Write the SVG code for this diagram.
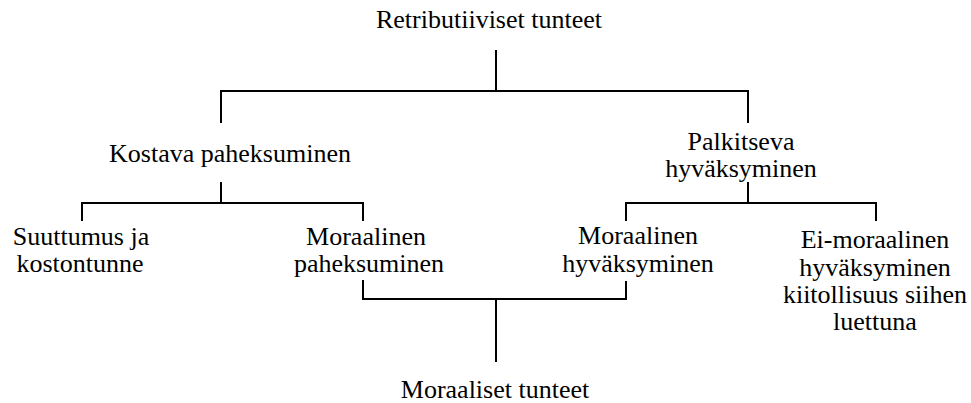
<svg xmlns="http://www.w3.org/2000/svg" width="971" height="403" viewBox="0 0 971 403">
<style>
text { font-size: 26px; fill: #000; text-anchor: middle; }
.c { stroke: #000; stroke-width: 2; fill: none; }
</style>
<rect width="971" height="403" fill="#fff"/>
<g id="connectors">
<path class="c" d="M496 50 V91 M221 123 V91 H748 V123"/>
<path class="c" d="M221 182 V203 M82 221 V203 H363 V221"/>
<path class="c" d="M748 182 V203 M626 221 V203 H876 V221"/>
<path class="c" d="M363 280 V299 H626 V281 M496 299 V362"/>
</g>
<g font-family="Liberation Serif, Times New Roman, DejaVu Serif, serif">
<g id="n-retributiiviset"><text x="489" y="28">Retributiiviset tunteet</text></g>
<g id="n-kostava"><text x="230" y="162">Kostava paheksuminen</text></g>
<g id="n-palkitseva"><text x="741" y="150">Palkitseva</text><text x="741" y="177">hyväksyminen</text></g>
<g id="n-suuttumus"><text x="81" y="245">Suuttumus ja</text><text x="80" y="272">kostontunne</text></g>
<g id="n-moraalinen-pah"><text x="366" y="245">Moraalinen</text><text x="369" y="272">paheksuminen</text></g>
<g id="n-moraalinen-hyv"><text x="638" y="244">Moraalinen</text><text x="638" y="272">hyväksyminen</text></g>
<g id="n-ei-moraalinen"><text x="875" y="248">Ei-moraalinen</text><text x="875" y="276">hyväksyminen</text><text x="875" y="303">kiitollisuus siihen</text><text x="875" y="330">luettuna</text></g>
<g id="n-moraaliset"><text x="495" y="398">Moraaliset tunteet</text></g>
</g>
</svg>
